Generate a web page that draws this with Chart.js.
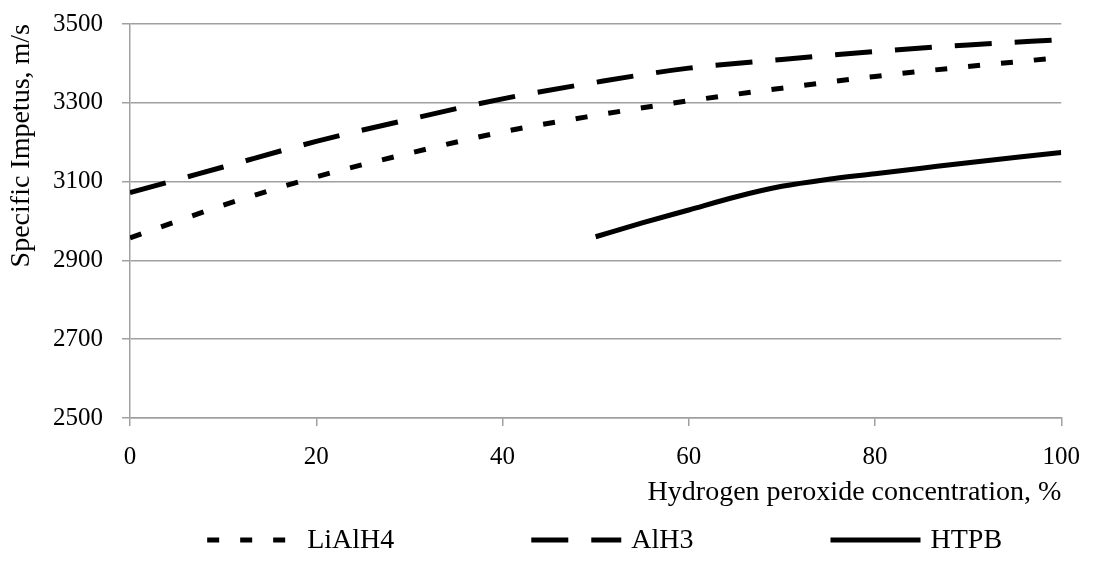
<!DOCTYPE html>
<html>
<head>
<meta charset="utf-8">
<script src="https://cdn.jsdelivr.net/npm/chart.js@4.4.1/dist/chart.umd.min.js"></script>
<style>
  html, body { margin: 0; padding: 0; background: #fff; }
  #wrap { width: 1096px; height: 565px; position: relative; }
</style>
</head>
<body>
<div id="wrap"><canvas id="impulsoChart"></canvas></div>
<script>
// valores
const concentracion = [0, 10, 20, 30, 40, 50, 60, 70, 80, 90, 100];
const liAlH4 = [2957, 3040, 3112, 3172, 3226, 3268, 3305, 3337, 3367, 3392, 3415];
const alH3 = [3072, 3137, 3202, 3258, 3310, 3352, 3388, 3410, 3430, 3447, 3460];
const concentracionHTPB = [50, 55, 60, 65, 70, 75, 80, 85, 90, 95, 100];
const htpb = [2960, 2995, 3028, 3061, 3088, 3106, 3120, 3134, 3148, 3161, 3174];
const ticksY = [2500, 2700, 2900, 3100, 3300, 3500];

const puntos = (xs, ys) => xs.map((x, i) => ({ x: x, y: ys[i] }));

const serif = "'Liberation Serif', 'Times New Roman', serif";
const gris = '#a0a0a0';

// leyenda dibujada a mano (Chart.js no deja separar tanto los items)
const leyenda = {
    id: 'leyenda',
    afterDraw(chart) {
        const ctx = chart.ctx;
        const area = chart.chartArea;
        const muestra = 90;
        const sep = 10;
        const hueco = 137;
        ctx.save();
        ctx.font = '28px ' + serif;
        const items = chart.data.datasets.map(ds => ({ ds, w: muestra + sep + ctx.measureText(ds.label).width }));
        const total = items.reduce((s, it) => s + it.w, 0) + hueco * (items.length - 1);
        let x = (area.left + area.right) / 2 - total / 2 + 9;
        const y = 540;
        items.forEach(it => {
            ctx.beginPath();
            ctx.setLineDash(it.ds.borderDash || []);
            ctx.lineWidth = it.ds.borderWidth;
            ctx.strokeStyle = it.ds.borderColor;
            ctx.moveTo(x, y);
            ctx.lineTo(x + muestra, y);
            ctx.stroke();
            ctx.setLineDash([]);
            ctx.fillStyle = '#000';
            ctx.textBaseline = 'middle';
            ctx.fillText(it.ds.label, x + muestra + sep, y + 1);
            x += it.w + hueco;
        });
        ctx.restore();
    }
};

new Chart(document.getElementById('impulsoChart'), {
    type: 'line',
    data: {
        datasets: [{
            label: 'LiAlH4',
            data: puntos(concentracion, liAlH4),
            borderColor: '#000',
            borderWidth: 5,
            borderDash: [12, 21],
            cubicInterpolationMode: 'monotone',
            pointRadius: 0
        }, {
            label: 'AlH3',
            data: puntos(concentracion, alH3),
            borderColor: '#000',
            borderWidth: 5,
            borderDash: [37, 23],
            cubicInterpolationMode: 'monotone',
            pointRadius: 0
        }, {
            label: 'HTPB',
            data: puntos(concentracionHTPB, htpb),
            borderColor: '#000',
            borderWidth: 5,
            cubicInterpolationMode: 'monotone',
            pointRadius: 0
        }]
    },
    options: {
        responsive: true,
        maintainAspectRatio: false,
        animation: false,
        layout: { padding: { top: 24, right: 34, left: 0, bottom: 0 } },
        plugins: {
            legend: { display: false },
            tooltip: { enabled: false }
        },
        scales: {
            x: {
                type: 'linear',
                min: 0,
                max: 100,
                ticks: { stepSize: 20, color: '#000', padding: 16, font: { family: serif, size: 25 }, callback: (v) => String(v) },
                grid: { drawOnChartArea: false, tickLength: 8, color: gris, lineWidth: 1.5 },
                border: { color: gris, width: 1.5 },
                title: {
                    display: true,
                    text: 'Hydrogen peroxide concentration, %',
                    align: 'end',
                    color: '#000',
                    font: { family: serif, size: 28 },
                    padding: { top: 0, bottom: 56 }
                },
                afterFit: (scale) => { scale.height = 147; }
            },
            y: {
                min: 2500,
                max: 3500,
                afterBuildTicks: (scale) => { scale.ticks = ticksY.map(v => ({ value: v })); },
                ticks: { color: '#000', padding: 19, font: { family: serif, size: 25 }, callback: (v) => String(v) },
                grid: { color: gris, lineWidth: 1.5, tickLength: 8 },
                border: { color: gris, width: 1.5 },
                title: {
                    display: true,
                    text: 'Specific Impetus, m/s',
                    align: 'end',
                    color: '#000',
                    font: { family: serif, size: 28 },
                    padding: { top: 5, bottom: 0 }
                },
                afterFit: (scale) => {
                    scale.width = 130;
                    scale.paddingTop = 0;
                    scale.paddingBottom = 0;
                }
            }
        }
    },
    plugins: [leyenda]
});
</script>
</body>
</html>
